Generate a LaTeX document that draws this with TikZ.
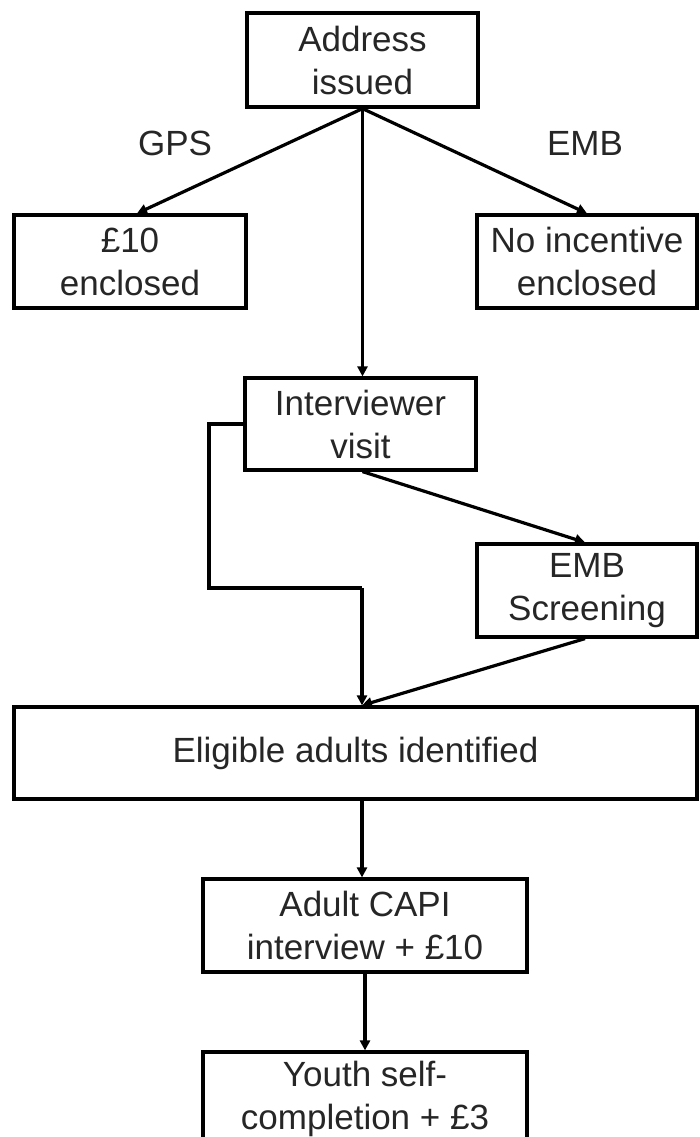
\documentclass[tikz,border=0pt]{standalone}
\usepackage{fontspec}
\setmainfont{Liberation Sans}
\usetikzlibrary{arrows.meta,calc}
\begin{document}
\begin{tikzpicture}[x=1pt,y=-1pt,
  box/.style={draw=black,line width=3.2pt,inner sep=0pt,align=center,
    text=black!85,font=\fontsize{35}{43}\selectfont},
  lbl/.style={text=black!85,font=\fontsize{35}{43}\selectfont,inner sep=0pt},
  conn/.style={line width=3.2pt,draw=black},
  arr/.style={conn,-{Triangle[length=10pt,width=10pt]}}]
\useasboundingbox[fill=white] (0,0) rectangle (699,1137);
\node[box,minimum width=231pt,minimum height=94pt] (addr) at (362.5,60) {Address\\issued};
\node[box,minimum width=232pt,minimum height=93pt] (ten) at (130,261.5) {\pounds10\\enclosed};
\node[box,minimum width=220pt,minimum height=93pt] (noinc) at (587,261.5) {No incentive\\enclosed};
\node[box,minimum width=231pt,minimum height=92pt] (visit) at (360.5,424) {Interviewer\\visit};
\node[box,minimum width=220pt,minimum height=93pt] (emb) at (587,590.5) {EMB\\Screening};
\node[box,minimum width=683pt,minimum height=92pt] (elig) at (355.5,753) {Eligible adults identified};
\node[box,minimum width=324pt,minimum height=93pt] (adult) at (365,925.5) {Adult CAPI\\interview + \pounds10};
\node[box,minimum width=324pt,minimum height=93pt] (youth) at (365,1098.5) {Youth self-\\completion + \pounds3};
\node[lbl] (gps) at (175,143) {GPS};
\node[lbl] (embl) at (585,143) {EMB};
\coordinate (b1) at (209,424);
\coordinate (b2) at (209,588);
\coordinate (b3) at (362,588);
\draw[arr] (addr.south) -- ([xshift=7pt]ten.north);
\draw[arr] (addr.south) -- (noinc.north);
\draw[arr] (addr.south) -- (addr.south |- visit.north);
\draw[conn] (visit.west |- b1) -- (b1) -- (b2) -- (b3);
\draw[arr] (b3) -- (b3 |- elig.north);
\draw[arr] ([xshift=2pt]visit.south) -- ([xshift=-2pt]emb.north);
\draw[arr] ([xshift=-2pt]emb.south) -- ([xshift=6.5pt]elig.north);
\draw[arr] ([xshift=-3pt]adult.north |- elig.south) -- ([xshift=-3pt]adult.north);
\draw[arr] (adult.south) -- (youth.north);
\end{tikzpicture}
\end{document}
